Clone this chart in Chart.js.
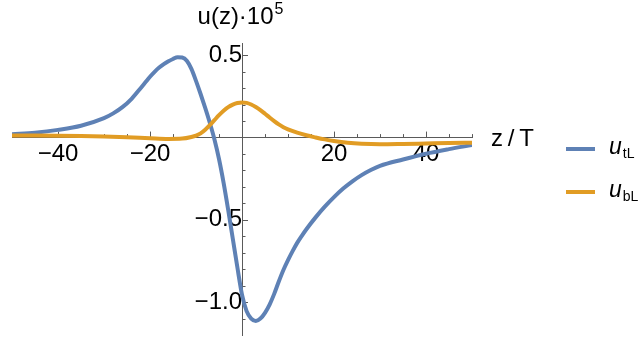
<!DOCTYPE html>
<html>
<head>
<meta charset="utf-8">
<script src="https://cdn.jsdelivr.net/npm/chart.js@4/dist/chart.umd.min.js"></script>
<style>
html,body{margin:0;padding:0;background:#fff;}
#wrap{position:relative;width:644px;height:337px;}
</style>
</head>
<body>
<div id="wrap"><canvas id="c" width="644" height="337"></canvas></div>
<script>
// ---- data ----
const tlZ = [-50,-45,-40,-35,-30,-28,-26,-24,-22,-21,-20,-19,-18,-17,-16,-15,-14,-13,-12,-11,-10,-9,-8,-7,-6,-5,-4,-3,-2,-1,0,1,2,3,4,5,6,7,8,9,10,11,12,13,14,16,18,20,22,24,26,28,30,35,40,45,50];
const tlU = [0.02,0.03,0.047,0.072,0.118,0.147,0.185,0.236,0.302,0.336,0.37,0.40,0.426,0.447,0.464,0.478,0.489,0.487,0.467,0.418,0.345,0.265,0.18,0.09,-0.01,-0.13,-0.275,-0.44,-0.615,-0.79,-0.955,-1.055,-1.1,-1.115,-1.1,-1.065,-1.015,-0.95,-0.875,-0.805,-0.745,-0.69,-0.64,-0.597,-0.557,-0.485,-0.42,-0.362,-0.31,-0.266,-0.228,-0.197,-0.172,-0.133,-0.098,-0.07,-0.045];
const blZ = [-50,-45,-40,-35,-30,-25,-20,-16,-13,-11,-10,-9,-8,-7,-6,-5,-4,-3,-2,-1,0,1,2,3,4,5,6,7,8,9,10,12,14,16,18,20,23,26,30,35,40,45,50];
const blU = [0.012,0.012,0.011,0.009,0.006,0.002,-0.004,-0.008,-0.006,0.004,0.012,0.026,0.048,0.076,0.106,0.136,0.163,0.185,0.2,0.21,0.214,0.211,0.201,0.186,0.167,0.145,0.122,0.1,0.08,0.063,0.05,0.03,0.014,0.001,-0.011,-0.021,-0.032,-0.038,-0.041,-0.039,-0.036,-0.033,-0.031];
const seriesNames = ['tL','bL'];
const xMajorTicks = [-40,-20,20,40];
const xTickLabels = ['\u221240','\u221220','20','40'];
const yMajorTicks = [-1.0,-0.5,0.5];
const yTickLabels = ['\u22121.0','\u22120.5','0.5'];

const BLUE = 'rgb(94,129,181)';
const ORANGE = 'rgb(225,156,36)';
const AXIS = 'rgb(90,90,90)';
const FONT = '"Liberation Sans", Arial, sans-serif';

function pts(zs, us){ return zs.map((z,i)=>({x:z,y:us[i]})); }
function near(a,b){ return Math.abs(a-b) < 1e-6; }
function isStep(v, s){ return Math.abs(v/s - Math.round(v/s)) < 1e-6; }
function noPad(scale){ scale.paddingTop = 0; scale.paddingBottom = 0; scale.paddingLeft = 0; scale.paddingRight = 0; }

const mmaPlugin = {
  id: 'mma',
  beforeDatasetsDraw(chart){
    const ctx = chart.ctx, xs = chart.scales.x, ys = chart.scales.y;
    const x0 = xs.getPixelForValue(0), y0 = ys.getPixelForValue(0);
    ctx.save();
    ctx.strokeStyle = AXIS; ctx.lineWidth = 1;
    xs.ticks.forEach(t => {
      const v = t.value;
      if (!isStep(v,5) || near(v,0)) return;
      const major = xMajorTicks.some(m => near(m,v));
      const len = major ? 6 : 3.5;
      const px = Math.round(xs.getPixelForValue(v)) + 0.5;
      ctx.beginPath(); ctx.moveTo(px, y0); ctx.lineTo(px, y0 - len); ctx.stroke();
    });
    ys.ticks.forEach(t => {
      const v = t.value;
      if (!isStep(v,0.1) || near(v,0)) return;
      const major = yMajorTicks.some(m => near(m,v));
      const len = major ? 6 : 3.5;
      const py = Math.round(ys.getPixelForValue(v)) + 0.5;
      ctx.beginPath(); ctx.moveTo(x0, py); ctx.lineTo(x0 + len, py); ctx.stroke();
    });
    ctx.restore();
  },
  afterDraw(chart){
    const ctx = chart.ctx, xs = chart.scales.x, ys = chart.scales.y;
    const x0 = xs.getPixelForValue(0), y0 = ys.getPixelForValue(0);
    ctx.save();
    ctx.fillStyle = '#000';
    ctx.textBaseline = 'alphabetic';
    // y axis label
    ctx.font = '24px ' + FONT;
    const main = 'u(z)\u00b710';
    const wm = ctx.measureText(main).width;
    ctx.font = '16px ' + FONT;
    const ws = ctx.measureText('5').width;
    let sx = x0 - (wm + ws) / 2 - 2;
    ctx.font = '24px ' + FONT; ctx.textAlign = 'left';
    ctx.fillText(main, sx, 24);
    ctx.font = '16px ' + FONT;
    ctx.fillText('5', sx + wm + 1, 14);
    // x axis label
    ctx.font = '24px ' + FONT;
    ctx.fillText('z\u2009/\u2009T', xs.right + 19, y0 + 8);
    // legend
    const ds = chart.data.datasets;
    const rows = [149, 192];
    ds.forEach((d, i) => {
      const y = rows[i];
      ctx.strokeStyle = d.borderColor; ctx.lineWidth = 4;
      ctx.beginPath(); ctx.moveTo(566, y); ctx.lineTo(595, y); ctx.stroke();
      ctx.font = 'italic 23px ' + FONT;
      ctx.fillText('u', 609, y + 5);
      const wu = ctx.measureText('u').width;
      ctx.font = '14px ' + FONT;
      ctx.fillText(seriesNames[i], 609 + wu + 1, y + 9);
    });
    ctx.restore();
  }
};

new Chart(document.getElementById('c'), {
  type: 'line',
  data: {
    datasets: [
      { label: 'u_tL', data: pts(tlZ, tlU), borderColor: BLUE, borderWidth: 4, pointRadius: 0, cubicInterpolationMode: 'monotone', order: 1, fill: false },
      { label: 'u_bL', data: pts(blZ, blU), borderColor: ORANGE, borderWidth: 4, pointRadius: 0, cubicInterpolationMode: 'monotone', order: 0, fill: false }
    ]
  },
  options: {
    responsive: false,
    animation: false,
    events: [],
    layout: { padding: { left: 12, right: 172, top: 43, bottom: 2 } },
    plugins: { legend: { display: false }, tooltip: { enabled: false } },
    scales: {
      x: {
        type: 'linear', min: -50, max: 50,
        position: { y: 0 },
        afterFit: noPad,
        grid: { display: true, drawOnChartArea: false, drawTicks: false },
        border: { display: true, color: AXIS, width: 1 },
        ticks: {
          stepSize: 5, autoSkip: false, maxRotation: 0, padding: 2.5, includeBounds: false,
          color: '#000', font: { family: FONT, size: 24 },
          callback: (v) => { const k = xMajorTicks.findIndex(m => near(m, v)); return k >= 0 ? xTickLabels[k] : ''; }
        }
      },
      y: {
        type: 'linear', min: -1.2, max: 0.575,
        position: { x: 0 },
        afterFit: noPad,
        grid: { display: true, drawOnChartArea: false, drawTicks: false },
        border: { display: true, color: AXIS, width: 1 },
        ticks: {
          stepSize: 0.1, autoSkip: false, padding: 8, includeBounds: false,
          color: '#000', font: { family: FONT, size: 24 },
          callback: (v) => { const k = yMajorTicks.findIndex(m => near(m, v)); return k >= 0 ? yTickLabels[k] : ''; }
        }
      }
    }
  },
  plugins: [mmaPlugin]
});
</script>
</body>
</html>
